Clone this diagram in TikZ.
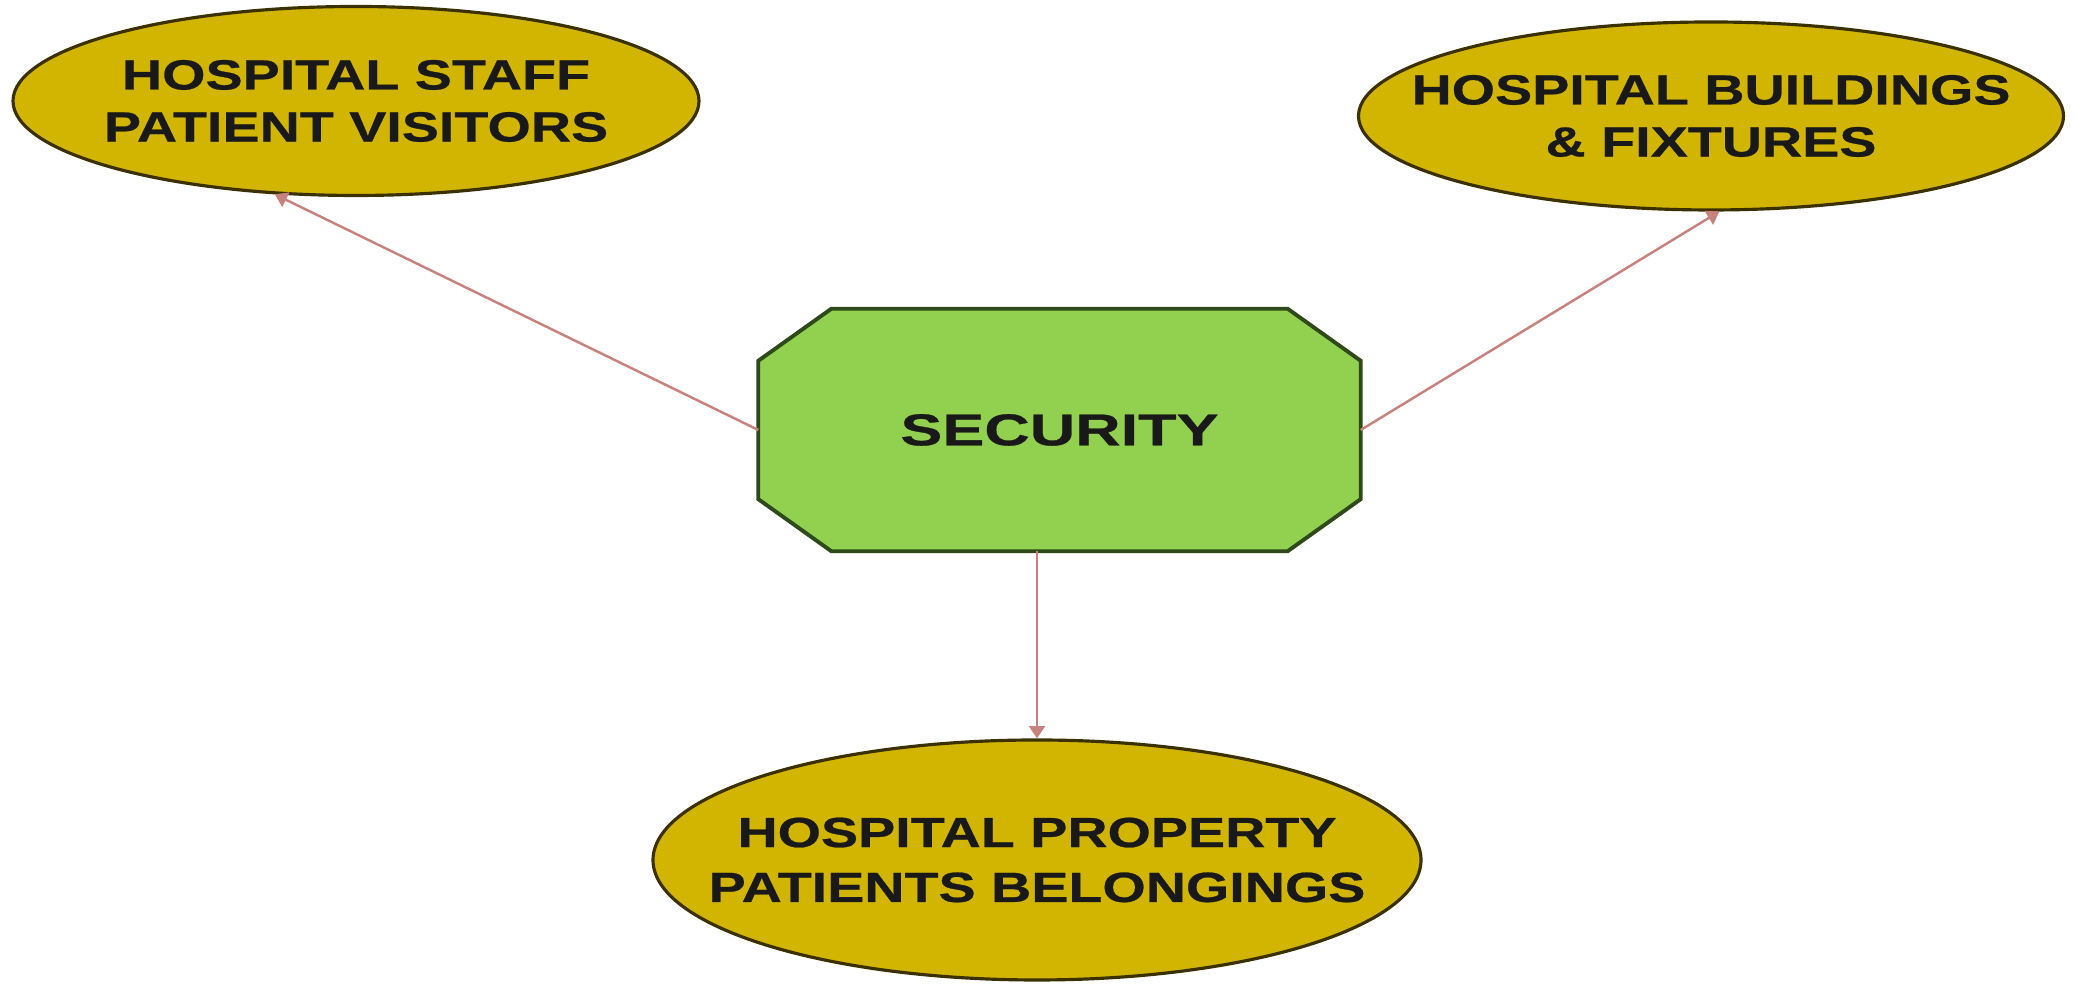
\documentclass[tikz,border=0pt]{standalone}
\usepackage{fontspec}
\setmainfont{Liberation Sans}
\newfontfamily\zonefont{Liberation Sans Bold}[FakeStretch=1.32, FakeBold=0.6]
\newfontfamily\hubfont{Liberation Sans Bold}[FakeStretch=1.41, FakeBold=0.6]
\usetikzlibrary{shapes.geometric,arrows.meta,backgrounds}

\definecolor{zonefill}{HTML}{D1B500}
\definecolor{zoneline}{HTML}{3A3000}
\definecolor{hubfill}{HTML}{92D050}
\definecolor{hubline}{HTML}{2E4A1A}
\definecolor{linkcol}{HTML}{C8827D}

\def\cx{0.73cm}
\def\cy{0.52cm}

\begin{document}
\begin{tikzpicture}[
        zone/.style={ellipse, draw=zoneline, fill=zonefill, line width=0.9pt, inner sep=0pt},
        zonetext/.style={align=center, font=\zonefont\fontsize{12}{14.8}\selectfont, text=black!90},
        hub/.style={rectangle, minimum width=6.01cm, minimum height=2.41cm,
            inner sep=0pt, font=\hubfont\fontsize{12.7}{15}\selectfont, text=black!90},
        hubedge/.style={draw=hubline, fill=hubfill, line width=1.1pt, line join=miter},
        link/.style={draw=linkcol, line width=0.7pt, -{Triangle[width=4.5pt,length=3.5pt]}}
    ]
            \useasboundingbox (0, 0) rectangle (20.75, 9.88);

            \node[hub] (sec) at (10.595, 5.58) {SECURITY};
            \begin{scope}[on background layer]
                \path[hubedge] ([xshift=\cx]sec.north west) -- ([xshift=-\cx]sec.north east)
                    -- ([yshift=-\cy]sec.north east) -- ([yshift=\cy]sec.south east)
                    -- ([xshift=-\cx]sec.south east) -- ([xshift=\cx]sec.south west)
                    -- ([yshift=\cy]sec.south west) -- ([yshift=-\cy]sec.north west) -- cycle;
            \end{scope}

            \node[zone, minimum width=6.86cm, minimum height=1.89cm,
                label={[zonetext]center:HOSPITAL STAFF\\PATIENT VISITORS}] (staff) at (3.56, 8.87) {};
            \node[zone, minimum width=7.05cm, minimum height=1.88cm,
                label={[zonetext]center:HOSPITAL BUILDINGS\\\& FIXTURES}] (bldg) at (17.11, 8.72) {};
            \node[zone, minimum width=7.68cm, minimum height=2.40cm,
                label={[zonetext, font=\zonefont\fontsize{12}{15.6}\selectfont]center:HOSPITAL PROPERTY\\PATIENTS BELONGINGS}] (prop) at (10.37, 1.28) {};

            \draw[link] (sec.west) -- (staff.229);
            \draw[link] (sec.east) -- (bldg.275);
            \draw[link] (prop.north |- sec.south) -- (prop.north);

        \end{tikzpicture}
\end{document}
